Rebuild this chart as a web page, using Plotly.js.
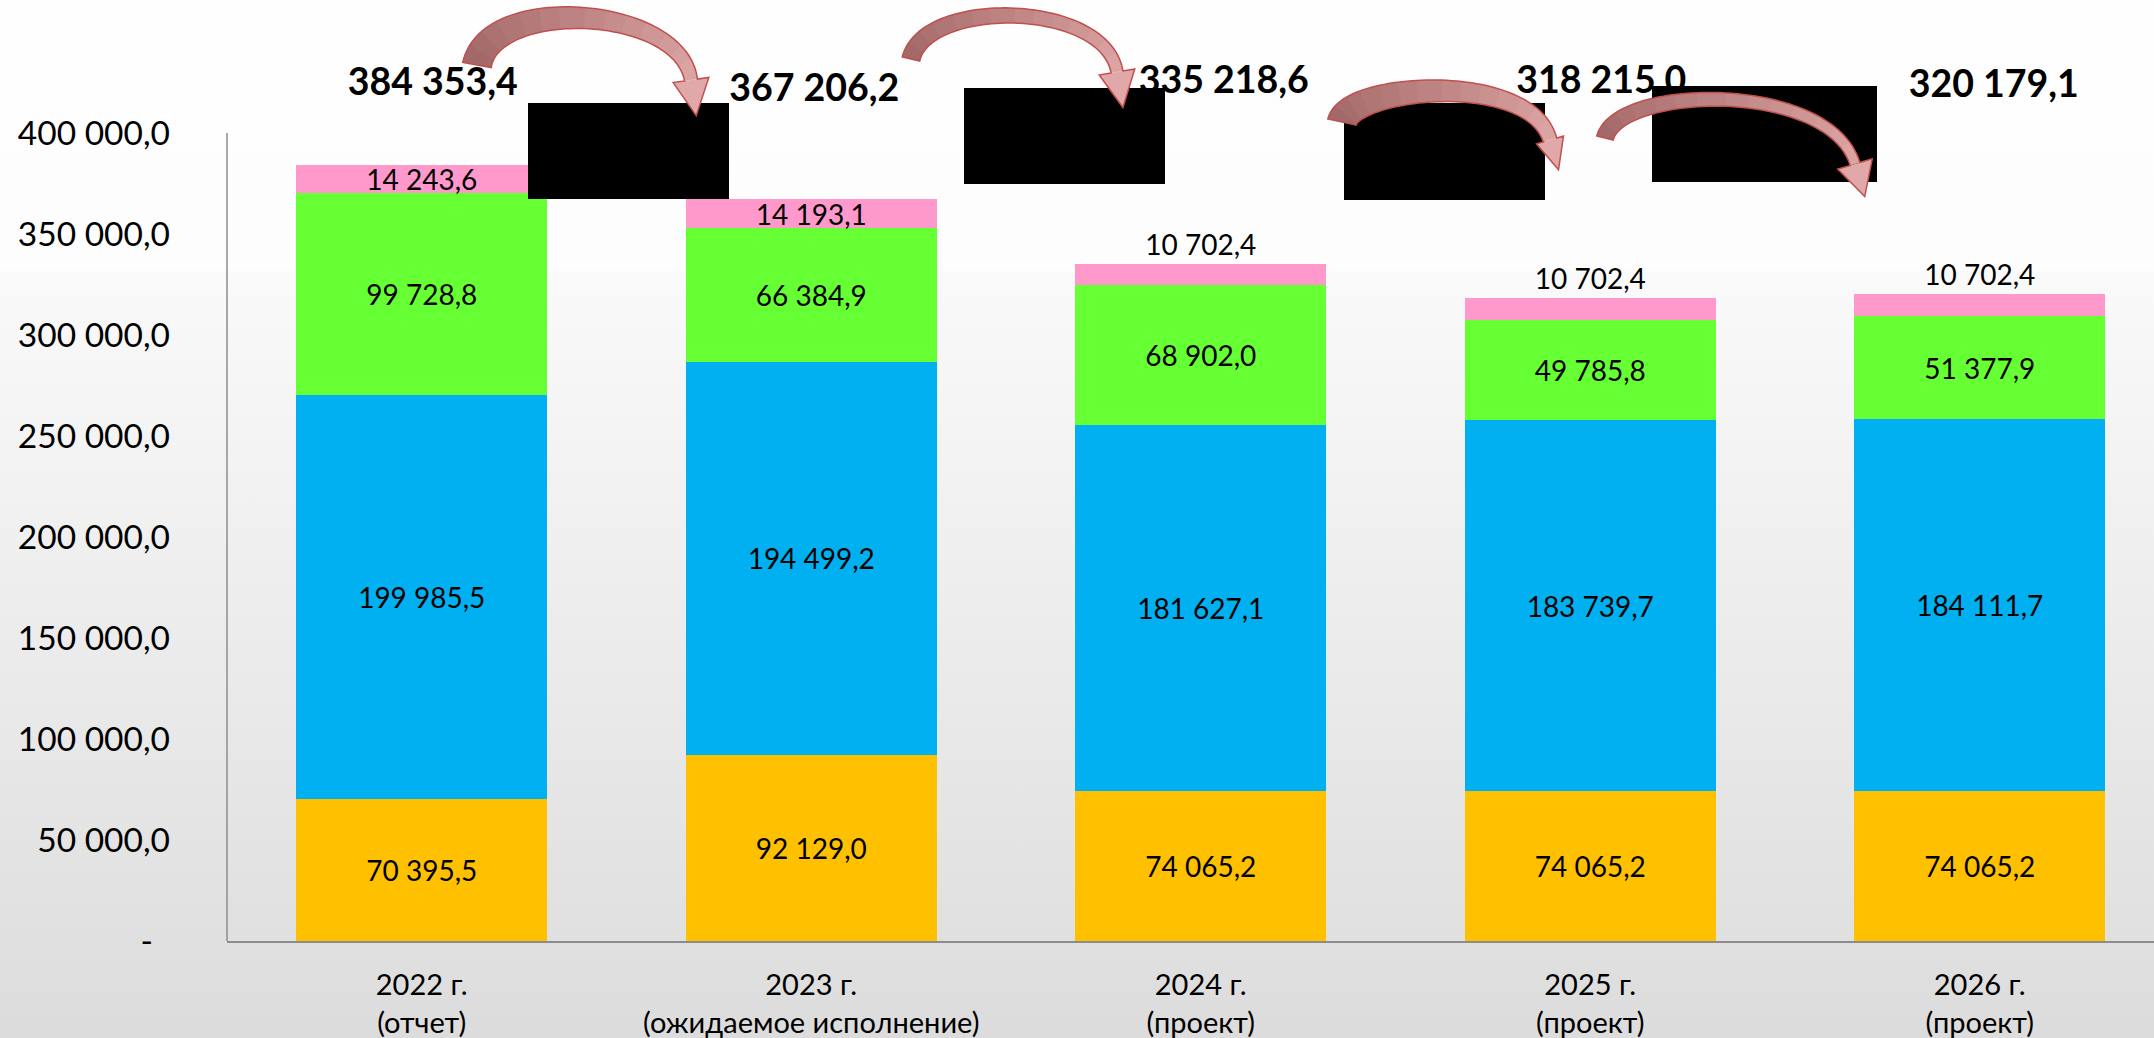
<!DOCTYPE html>
<html>
<head>
<meta charset="utf-8">
<script src="https://cdn.plot.ly/plotly-3.0.1.min.js"></script>
<style>
  html, body { margin: 0; padding: 0; }
  body {
    width: 2154px; height: 1038px; overflow: hidden;
    background: linear-gradient(to bottom, #fefefe 0px, #fdfdfd 270px, #fafafa 272px, #dcdcdc 1038px);
  }
  #chart { width: 2154px; height: 1038px; }
</style>
</head>
<body>
<div id="chart"></div>
<script>
// ---------------- DATA ----------------
const categories = [
  '2022 г.<br>(отчет)',
  '2023 г.<br>(ожидаемое исполнение)',
  '2024 г.<br>(проект)',
  '2025 г.<br>(проект)',
  '2026 г.<br>(проект)'
];
const seriesOrange = [70395.5, 92129.0, 74065.2, 74065.2, 74065.2];
const seriesBlue   = [199985.5, 194499.2, 181627.1, 183739.7, 184111.7];
const seriesGreen  = [99728.8, 66384.9, 68902.0, 49785.8, 51377.9];
const seriesPink   = [14243.6, 14193.1, 10702.4, 10702.4, 10702.4];
const totals       = [384353.4, 367206.2, 335218.6, 318215.0, 320179.1];
const yTickValues  = [0, 50000, 100000, 150000, 200000, 250000, 300000, 350000, 400000];
const Y_AXIS_MAX   = 400000;

// ---------------- HELPERS ----------------
function fmt(v) {
  const s = v.toFixed(1);
  const parts = s.split('.');
  return parts[0].replace(/\B(?=(\d{3})+(?!\d))/g, ' ') + ',' + parts[1];
}

// figure geometry (pixels)
const FIG_W = 2154, FIG_H = 1038;
const M = { l: 227, r: 0, t: 40, b: 97 };
const PW = FIG_W - M.l - M.r;
const PH = FIG_H - M.t - M.b;
const BOTTOM = FIG_H - M.b;            // pixel row of value 0
const AXIS_TOP_PX = 133;               // pixel row of the axis maximum
const UNITS_PER_PX = Y_AXIS_MAX / (BOTTOM - AXIS_TOP_PX);
const CAT_STEP = 389.5;                // px per category
const X_RANGE = [-0.5, -0.5 + PW / CAT_STEP];
const Y_RANGE = [0, PH * UNITS_PER_PX];

function toPaper(X, Y) { return [(X - M.l) / PW, (BOTTOM - Y) / PH]; }

const FONT = 'Lato, "Open Sans", sans-serif';
const LABEL_SIZE = 28;

// ---------------- TRACES ----------------
function barTrace(vals, color, textpos) {
  return {
    type: 'bar',
    x: categories,
    y: vals,
    marker: { color: color, line: { width: 0 } },
    text: vals.map(fmt),
    textposition: textpos,
    insidetextanchor: 'middle',
    textangle: 0,
    constraintext: 'none',
    cliponaxis: false,
    textfont: { family: FONT, size: LABEL_SIZE, color: '#000' },
    insidetextfont: { family: FONT, size: LABEL_SIZE, color: '#000' },
    outsidetextfont: { family: FONT, size: LABEL_SIZE, color: '#000' },
    hoverinfo: 'skip'
  };
}

const traces = [
  barTrace(seriesOrange, '#FFC000', 'inside'),
  barTrace(seriesBlue, '#00B0F0', 'inside'),
  barTrace(seriesGreen, '#66FF33', 'inside'),
  barTrace(seriesPink, '#FF99CC', ['inside', 'inside', 'outside', 'outside', 'outside'])
];

// total labels above the bars (pixel offsets from category centre, pixel centre rows)
const totalDx = [11, 3, 23, 11, 14];
const totalCy = [86, 92, 84, 84, 88];
traces.push({
  type: 'scatter',
  mode: 'text',
  xaxis: 'x2',
  yaxis: 'y',
  x: totals.map((_, i) => i + totalDx[i] / CAT_STEP),
  y: totals.map((_, i) => (BOTTOM - totalCy[i]) * UNITS_PER_PX),
  text: totals.map(fmt),
  textposition: 'middle center',
  textfont: { family: FONT, size: 37.5, color: '#000', weight: 'bold' },
  cliponaxis: false,
  hoverinfo: 'skip',
  showlegend: false
});

// ---------------- SHAPES ----------------
const shapes = [];
// value axis line (only up to the axis maximum)
shapes.push({
  type: 'line', xref: 'paper', yref: 'y', layer: 'above',
  x0: 0, x1: 0, y0: 0, y1: Y_AXIS_MAX,
  line: { color: '#8c8c8c', width: 1.5 }
});
function rectPx(x0, y0, x1, y1) {
  const a = toPaper(x0, y0), b = toPaper(x1, y1);
  shapes.push({
    type: 'rect', xref: 'paper', yref: 'paper', layer: 'above',
    x0: a[0], y0: b[1], x1: b[0], y1: a[1],
    fillcolor: '#000000', line: { width: 0 }
  });
}
rectPx(528, 103, 729, 199);
rectPx(964, 88, 1165, 184);
rectPx(1344, 103, 1545, 200);
rectPx(1652, 86, 1877, 182);

// curved arrows
const arrows = [
  { p: [[477, 65], [490, -5], [680, 5], [691, 80]], w0: 29, w1: 13, hw: 18, hl: 36 },
  { p: [[911, 59], [925, -2], [1105, 0], [1117, 72]], w0: 18, w1: 12, hw: 18, hl: 36 },
  { p: [[1342, 122], [1350, 85], [1530, 70], [1550, 140]], w0: 29, w1: 14, hw: 14, hl: 31 },
  { p: [[1605, 138], [1618, 85], [1830, 80], [1855, 164]], w0: 17, w1: 10, hw: 18, hl: 34 }
];
function bez(p, t) {
  const u = 1 - t;
  const x = u*u*u*p[0][0] + 3*u*u*t*p[1][0] + 3*u*t*t*p[2][0] + t*t*t*p[3][0];
  const y = u*u*u*p[0][1] + 3*u*u*t*p[1][1] + 3*u*t*t*p[2][1] + t*t*t*p[3][1];
  const dx = 3*u*u*(p[1][0]-p[0][0]) + 6*u*t*(p[2][0]-p[1][0]) + 3*t*t*(p[3][0]-p[2][0]);
  const dy = 3*u*u*(p[1][1]-p[0][1]) + 6*u*t*(p[2][1]-p[1][1]) + 3*t*t*(p[3][1]-p[2][1]);
  const len = Math.hypot(dx, dy) || 1;
  return { x, y, tx: dx/len, ty: dy/len, nx: -dy/len, ny: dx/len };
}
function pathFrom(pts) {
  return pts.map((q, i) => {
    const pp = toPaper(q[0], q[1]);
    return (i ? 'L' : 'M') + pp[0].toFixed(5) + ',' + pp[1].toFixed(5);
  }).join(' ') + ' Z';
}
function mix(c0, c1, f) {
  return 'rgb(' + c0.map((c, i) => Math.round(c + (c1[i] - c) * f)).join(',') + ')';
}
const C_DARK = [163, 104, 104], C_LIGHT = [224, 168, 168];
const outlines = [];
arrows.forEach(a => {
  const N = 60, S = 14;
  const left = [], right = [];
  for (let i = 0; i <= N; i++) {
    const t = i / N;
    const b = bez(a.p, t);
    const w = (a.w0 + (a.w1 - a.w0) * t) / 2;
    left.push([b.x + b.nx * w, b.y + b.ny * w]);
    right.push([b.x - b.nx * w, b.y - b.ny * w]);
  }
  const e = bez(a.p, 1);
  const hL = [e.x + e.nx * a.hw, e.y + e.ny * a.hw];
  const hR = [e.x - e.nx * a.hw, e.y - e.ny * a.hw];
  const tip = [e.x + e.tx * a.hl, e.y + e.ty * a.hl];
  for (let s = 0; s < S; s++) {
    const i0 = Math.floor(s * N / S);
    const i1 = Math.min(N, Math.floor((s + 1) * N / S) + 1);
    const pts = left.slice(i0, i1 + 1).concat(right.slice(i0, i1 + 1).reverse());
    shapes.push({
      type: 'path', xref: 'paper', yref: 'paper', layer: 'above',
      path: pathFrom(pts), fillcolor: mix(C_DARK, C_LIGHT, s / S), line: { width: 0 }
    });
  }
  shapes.push({
    type: 'path', xref: 'paper', yref: 'paper', layer: 'above',
    path: pathFrom([left[N], hL, tip, hR, right[N]]), fillcolor: mix(C_DARK, C_LIGHT, 1), line: { width: 0 }
  });
  const outlinePts = left.concat([hL, tip, hR]).concat(right.slice().reverse());
  outlines.push({
    type: 'path', xref: 'paper', yref: 'paper', layer: 'above',
    path: pathFrom(outlinePts), fillcolor: 'rgba(0,0,0,0)', line: { color: '#c0504d', width: 1.5 }
  });
});
outlines.forEach(o => shapes.push(o));

// ---------------- LAYOUT ----------------
const layout = {
  width: FIG_W,
  height: FIG_H,
  margin: M,
  paper_bgcolor: 'rgba(0,0,0,0)',
  plot_bgcolor: 'rgba(0,0,0,0)',
  barmode: 'stack',
  bargap: 0.355,
  showlegend: false,
  hovermode: false,
  font: { family: FONT, color: '#000' },
  xaxis: {
    type: 'category',
    range: X_RANGE,
    showline: true, linecolor: '#8c8c8c', linewidth: 1.5,
    showgrid: false, zeroline: false,
    ticks: '',
    ticklabelstandoff: 18,
    tickfont: { family: FONT, size: 29, color: '#000' },
    fixedrange: true
  },
  xaxis2: {
    type: 'linear',
    overlaying: 'x',
    range: X_RANGE,
    visible: false,
    fixedrange: true
  },
  yaxis: {
    range: Y_RANGE,
    showline: false,
    showgrid: false, zeroline: false,
    ticks: '',
    tickvals: yTickValues,
    ticktext: yTickValues.map(v => v === 0 ? '-\u00a0\u00a0' : fmt(v)),
    ticklabelstandoff: 56,
    tickfont: { family: FONT, size: 33.5, color: '#000' },
    fixedrange: true
  },
  shapes: shapes
};

Plotly.newPlot('chart', traces, layout, { staticPlot: true, displayModeBar: false });
</script>
</body>
</html>
